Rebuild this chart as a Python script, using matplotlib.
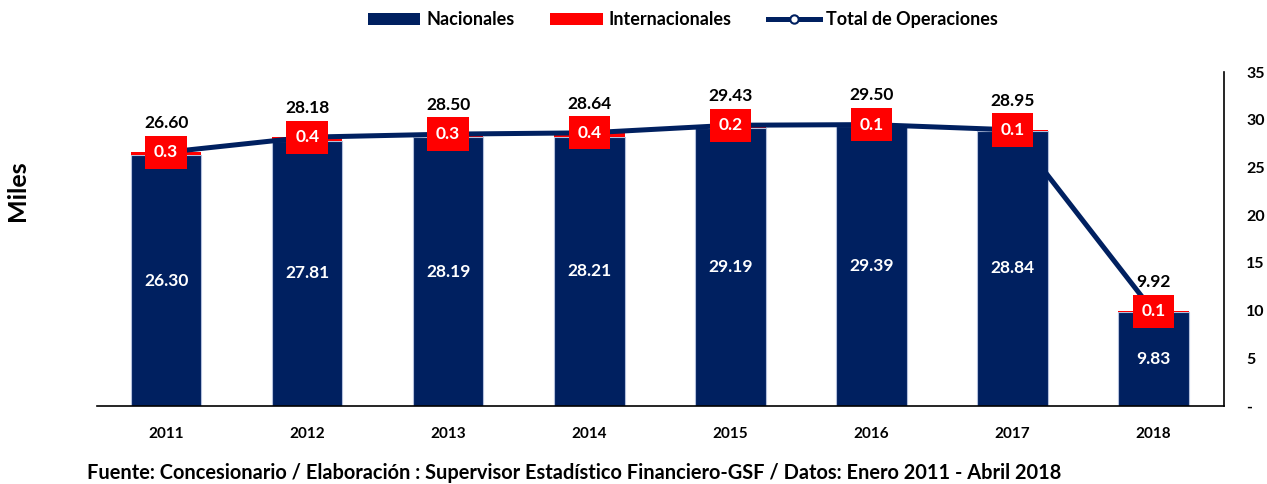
import matplotlib.pyplot as plt
from matplotlib.patches import Patch
from matplotlib.lines import Line2D

# ============================================================
# DATA (miles de operaciones)
# ============================================================
years = ["2011", "2012", "2013", "2014", "2015", "2016", "2017", "2018"]
nacionales = [26.30, 27.81, 28.19, 28.21, 29.19, 29.39, 28.84, 9.83]
internacionales = [0.30, 0.37, 0.31, 0.43, 0.24, 0.11, 0.11, 0.09]
totales = [26.60, 28.18, 28.50, 28.64, 29.43, 29.50, 28.95, 9.92]
y_ticks = [0, 5, 10, 15, 20, 25, 30, 35]
y_tick_labels = ["-", "5", "10", "15", "20", "25", "30", "35"]

NAVY = "#002060"
RED = "#ff0000"

plt.rcParams["font.family"] = ["Lato", "DejaVu Sans"]
plt.rcParams["font.weight"] = "bold"

fig = plt.figure(figsize=(12.67, 4.84), dpi=100)
ax = fig.add_axes([0.0766, 0.161, 0.8894, 0.690])

x = list(range(len(years)))
ax.bar(x, nacionales, width=0.5, color=NAVY, edgecolor="#b4c0dc", linewidth=0.8, zorder=2)
ax.bar(x, internacionales, width=0.5, bottom=nacionales, color=RED, zorder=2)
ax.plot(x, totales, color=NAVY, linewidth=3.6, zorder=3, solid_capstyle="round")

for xi, n, i, t in zip(x, nacionales, internacionales, totales):
    ax.text(xi, n / 2, f"{n:.2f}", ha="center", va="center", color="white",
            fontsize=12.5, fontweight="bold", zorder=5)
    ax.text(xi, t, f"{i:.1f}", ha="center", va="center", color="white",
            fontsize=12.5, fontweight="bold", zorder=5,
            bbox=dict(boxstyle="square,pad=0.5", facecolor=RED, edgecolor="none"))
    ax.annotate(f"{t:.2f}", (xi, t), xytext=(0, 21), textcoords="offset points",
                ha="center", va="center", fontsize=12.5, fontweight="bold", zorder=5)

ax.set_xlim(-0.49, 7.5)
ax.set_ylim(0, 35)
ax.set_xticks(x)
ax.set_xticklabels(years, fontsize=11, fontweight="bold")
ax.tick_params(axis="x", length=0, pad=15)

ax.yaxis.tick_right()
ax.set_yticks(y_ticks)
ax.set_yticklabels(y_tick_labels, fontsize=11.5, fontweight="bold")
ax.tick_params(axis="y", length=0, pad=16)

for side in ["top", "left"]:
    ax.spines[side].set_visible(False)
ax.spines["right"].set_linewidth(1.2)
ax.spines["bottom"].set_linewidth(1.2)

fig.text(0.0142, 0.605, "Miles", rotation=90, ha="center", va="center",
         fontsize=18, fontweight="bold")

handles = [
    Patch(facecolor=NAVY, edgecolor="none"),
    Patch(facecolor=RED, edgecolor="none"),
    Line2D([0], [0], color=NAVY, linewidth=3.6, marker="o", markersize=6,
           markerfacecolor="white", markeredgecolor=NAVY, markeredgewidth=1.5),
]
fig.legend(handles, ["Nacionales", "Internacionales", "Total de Operaciones"],
           loc="center", bbox_to_anchor=(0.539, 0.959), ncol=3, frameon=False,
           fontsize=13, handlelength=2.9, handleheight=0.7, columnspacing=2.0,
           handletextpad=0.33)

fig.text(0.069, 0.022, "Fuente: Concesionario / Elaboración : Supervisor Estadístico "
         "Financiero-GSF / Datos: Enero 2011 - Abril 2018",
         ha="left", va="center", fontsize=14.4, fontweight="bold")

fig.savefig("out.png", dpi=100)
